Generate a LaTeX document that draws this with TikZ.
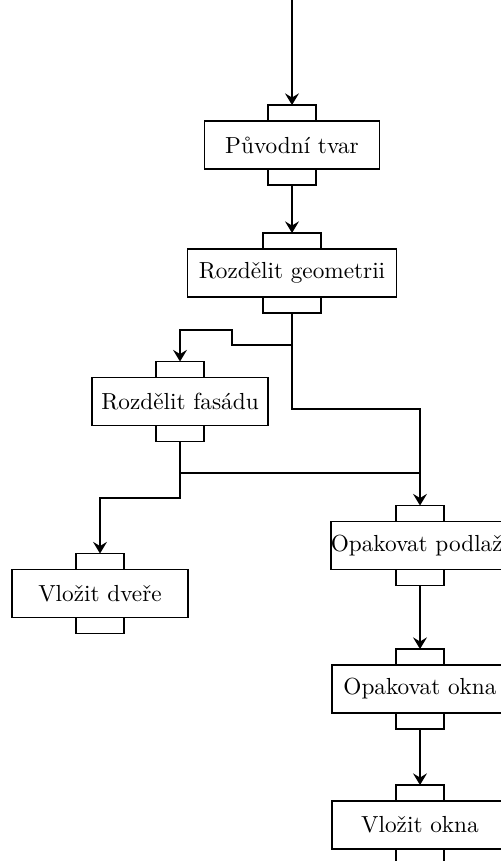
\documentclass[tikz,border=0pt]{standalone}
\usetikzlibrary{arrows.meta}
\begin{document}
\begin{tikzpicture}[x=0.43pt,y=-0.43pt,
  line width=0.75pt,
  block/.style={draw,rectangle,fill=white,outer sep=0pt,minimum width=176*0.43pt,minimum height=48*0.43pt,inner sep=0pt,font=\fontsize{10}{12}\selectfont},
  port/.style={draw,rectangle,fill=white,outer sep=0pt,minimum width=48*0.43pt,minimum height=16*0.43pt,inner sep=0pt},
  wideport/.style={port,minimum width=58*0.43pt},
  arr/.style={-{Stealth[length=5pt,width=6pt,inset=1.8pt]}}]
\useasboundingbox (0,0) rectangle (501,861);
\clip (0,0) rectangle (501,861);

% operation blocks
\node[block,minimum width=175*0.43pt] (orig) at (292,145) {Původní tvar};
\node[block,minimum width=209*0.43pt] (geom) at (292,273) {Rozdělit geometrii};
\node[block] (fas) at (180,401.5) {Rozdělit fasádu};
\node[block] (dvere) at (100,593.5) {Vložit dveře};
\node[block] (podl) at (420,545.5) {Opakovat podlaží};
\node[block] (ropak) at (420,689) {Opakovat okna};
\node[block] (vokna) at (420,825) {Vložit okna};

% input and output ports
\foreach \b in {orig,fas,dvere,podl,ropak,vokna}{
  \node[port,anchor=south] (\b-in) at (\b.north) {};
  \node[port,anchor=north] (\b-out) at (\b.south) {};
}
\node[wideport,anchor=south] (geom-in) at (geom.north) {};
\node[wideport,anchor=north] (geom-out) at (geom.south) {};

% routing points
\coordinate (start) at (292,0);
\coordinate (j1) at (292,345);
\coordinate (j1a) at (232,345);
\coordinate (j1b) at (232,330);
\coordinate (j1c) at (180,330);
\coordinate (k1) at (420,409);
\coordinate (j2) at (180,473);
\coordinate (k2) at (420,473);
\coordinate (j3) at (180,498);
\coordinate (j3a) at (100,498);

% connectors
\draw[arr] (start) -- (orig-in.north);
\draw[arr] (orig-out.south) -- (geom-in.north);
\draw[arr] (geom-out.south) -- (j1) -- (j1a) -- (j1b) -- (j1c) -- (fas-in.north);
\draw[arr] (j1) |- (k1) -- (podl-in.north);
\draw (fas-out.south) -- (j2) -- (k2);
\draw[arr] (j2) -- (j3) -- (j3a) -- (dvere-in.north);
\draw[arr] (podl-out.south) -- (ropak-in.north);
\draw[arr] (ropak-out.south) -- (vokna-in.north);
\end{tikzpicture}
\end{document}
